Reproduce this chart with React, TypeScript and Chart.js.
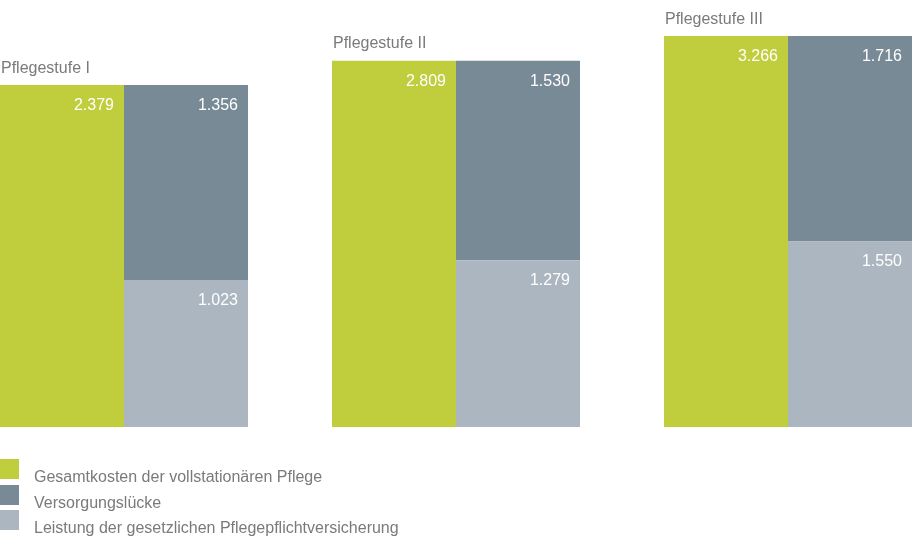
import React, { useEffect, useRef } from 'react';
import { Chart, registerables } from 'chart.js';

Chart.register(...registerables);

const categories = ['Pflegestufe I', 'Pflegestufe II', 'Pflegestufe III'];
const gesamtkosten = [2379, 2809, 3266];
const versorgungsluecke = [1356, 1530, 1716];
const leistung = [1023, 1279, 1550];

const seriesNames = [
  'Gesamtkosten der vollstationären Pflege',
  'Versorgungslücke',
  'Leistung der gesetzlichen Pflegepflichtversicherung',
];

const GREEN = '#c0cd3c';
const DARK = '#798a97';
const LIGHT = '#acb6c0';
const TEXT = '#7a7a7a';
const FONT = '16px "Liberation Sans", Arial, sans-serif';

const fmt = new Intl.NumberFormat('de-DE');

// each Pflegestufe is drawn against its own (hidden) y axis
const onlyAt = (values: number[], i: number) => values.map((v, j) => (j === i ? v : null));

const labelsPlugin = {
  id: 'labels',
  afterDatasetsDraw(chart: Chart) {
    const ctx = chart.ctx;
    ctx.save();
    ctx.font = FONT;
    ctx.textBaseline = 'alphabetic';

    chart.data.datasets.forEach((ds: any, di: number) => {
      const meta = chart.getDatasetMeta(di);
      const gi = ds.group as number;
      const el: any = meta.data[gi];
      const value = ds.data[gi];
      if (!el || value == null) return;
      const left = el.x - el.width / 2;
      const right = el.x + el.width / 2;

      ctx.fillStyle = '#ffffff';
      ctx.textAlign = 'right';
      ctx.fillText(fmt.format(value), right - 10, el.y + 25);

      if (ds.stack === 'gesamt') {
        ctx.fillStyle = TEXT;
        ctx.textAlign = 'left';
        ctx.fillText(categories[gi], left + 1, el.y - 12.5);
      }
    });

    // legend under the bars, aligned to the first bar
    const first: any = chart.getDatasetMeta(0).data[0];
    const x0 = first.x - first.width / 2;
    const colors = [GREEN, DARK, LIGHT];
    seriesNames.forEach((name, i) => {
      const top = chart.chartArea.bottom + 32 + i * 25.5;
      ctx.fillStyle = colors[i];
      ctx.fillRect(x0, Math.round(top), 19, 20);
      ctx.fillStyle = TEXT;
      ctx.textAlign = 'left';
      ctx.fillText(name, x0 + 34, top + 23);
    });
    ctx.restore();
  },
};

const App: React.FC = () => {
  const chartRef = useRef<HTMLCanvasElement>(null);
  const chartInstance = useRef<Chart | null>(null);

  useEffect(() => {
    document.body.style.margin = '0';
    if (!chartRef.current) return;
    if (chartInstance.current) {
      chartInstance.current.destroy();
    }
    const ctx = chartRef.current.getContext('2d');
    if (!ctx) return;

    const datasets: any[] = [];
    categories.forEach((_, i) => {
      const axis = `y${i}`;
      datasets.push({
        label: seriesNames[0],
        data: onlyAt(gesamtkosten, i),
        backgroundColor: GREEN,
        stack: 'gesamt',
        yAxisID: axis,
        group: i,
      });
      datasets.push({
        label: seriesNames[2],
        data: onlyAt(leistung, i),
        backgroundColor: LIGHT,
        stack: 'split',
        yAxisID: axis,
        group: i,
      });
      datasets.push({
        label: seriesNames[1],
        data: onlyAt(versorgungsluecke, i),
        backgroundColor: DARK,
        stack: 'split',
        yAxisID: axis,
        group: i,
      });
    });

    const hiddenY = (max: number) => ({
      type: 'linear' as const,
      display: false,
      stacked: true,
      min: 0,
      max,
    });

    chartInstance.current = new Chart(ctx, {
      type: 'bar',
      data: { labels: categories, datasets },
      plugins: [labelsPlugin],
      options: {
        responsive: true,
        maintainAspectRatio: false,
        animation: false,
        events: [],
        layout: { padding: { top: 36, bottom: 123, left: 0, right: 0 } },
        datasets: {
          bar: {
            skipNull: true,
            categoryPercentage: 248 / 332,
            barPercentage: 1,
            borderWidth: 0,
          },
        },
        scales: {
          x: { type: 'category', display: false, offset: true },
          y0: hiddenY(2720),
          y1: hiddenY(2998),
          y2: hiddenY(3266),
        },
        plugins: {
          legend: { display: false },
          tooltip: { enabled: false },
        },
      },
    });

    return () => {
      if (chartInstance.current) {
        chartInstance.current.destroy();
        chartInstance.current = null;
      }
    };
  }, []);

  return (
    <div style={{ position: 'relative', width: '913px', height: '550px', overflow: 'hidden', background: '#fff' }}>
      <div style={{ position: 'absolute', left: '-42px', top: 0, width: '996px', height: '550px' }}>
        <canvas ref={chartRef} />
      </div>
    </div>
  );
};

export default App;
